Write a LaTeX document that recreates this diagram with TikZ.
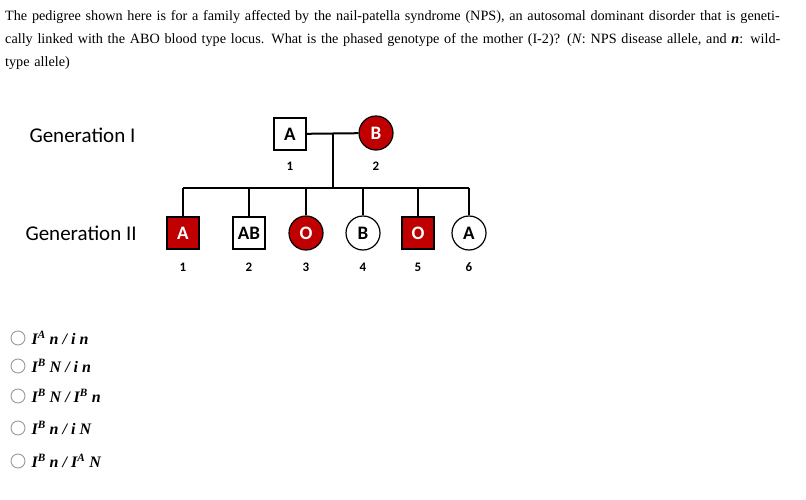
\documentclass[tikz,border=0pt]{standalone}
\usepackage{fontspec}
\setmainfont{Liberation Serif}
\newfontfamily\carl{Carlito}
\definecolor{dred}{HTML}{C00000}
\begin{document}
\begin{tikzpicture}[x=1pt,y=-1pt,
  male/.style={draw,line width=1.2pt,minimum size=32pt,inner sep=0pt,font=\carl\bfseries\fontsize{19}{19}\selectfont},
  female/.style={draw,circle,line width=1.2pt,minimum size=34pt,inner sep=0pt,font=\carl\bfseries\fontsize{19}{19}\selectfont},
  aff/.style={fill=dred,text=white},
  num/.style={font=\carl\bfseries\fontsize{13}{13}\selectfont},
  lbl/.style={font=\carl\fontsize{21}{21}\selectfont,anchor=west},
  ln/.style={line width=2pt},
  opt/.style={anchor=west,font=\bfseries\itshape\fontsize{16}{16}\selectfont},
  radio/.style={circle,draw=gray!80,line width=0.9pt,minimum size=14pt,inner sep=0pt}]
\useasboundingbox (0,0) rectangle (806,500);
\node[anchor=north west,align=left,text width=796pt,inner sep=0pt,font=\fontsize{14.2}{23}\selectfont] (q) at (5,10) {The pedigree shown here is for a family affected by the nail-patella syndrome (NPS), an autosomal dominant disorder that is genetically linked with the ABO blood type locus. What is the phased genotype of the mother (I-2)? (\textit{N}: NPS disease allele, and \textbf{\textit{n}}: wild-type allele)};
\node[lbl] (g1) at (26,135) {Generation I};
\node[lbl] (g2) at (22,233) {Generation II};
\node[male] (f) at (290,134) {A};
\node[female,aff] (m) at (376,133) {B};
\node[num] at (290,166) {1};
\node[num] at (376,166) {2};
\coordinate (mj) at (333,134);
\coordinate (sj) at (333,188);
\draw[ln] (f) -- (m);
\draw[ln] (mj) -- (sj);
\draw[ln] (183,188) -- (469,188);
\node[male,aff] (c1) at (183,233) {A};
\node[male] (c2) at (249,233) {AB};
\node[female,aff] (c3) at (306,233) {O};
\node[female] (c4) at (363,233) {B};
\node[male,aff] (c5) at (418,233) {O};
\node[female] (c6) at (469,233) {A};
\foreach \c/\x/\n in {c1/183/1,c2/249/2,c3/306/3,c4/363/4,c5/418/5,c6/469/6}{
  \draw[ln] (\x,188) -- (\c);
  \node[num] at (\x,267) {\n};}
\foreach \y/\t [count=\i] in {338/{I\textsuperscript{A} n / i n},366/{I\textsuperscript{B} N / i n},396/{I\textsuperscript{B} N / I\textsuperscript{B} n},428/{I\textsuperscript{B} n / i N},461/{I\textsuperscript{B} n / I\textsuperscript{A} N}}{
  \node[radio] (r\i) at (18,\y) {};
  \node[opt] (o\i) at (28,\y) {\t};}
\end{tikzpicture}
\end{document}
